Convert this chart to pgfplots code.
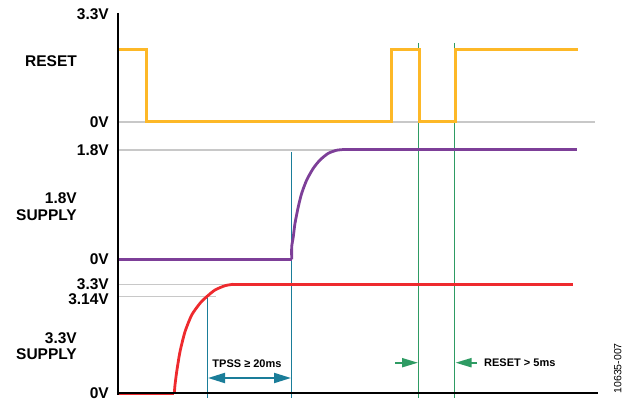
\documentclass[border=0pt]{standalone}
\usepackage{pgfplots}
\pgfplotsset{compat=1.18}
\usepackage{fontspec}
\setmainfont{Liberation Sans}
\usetikzlibrary{arrows.meta}
\definecolor{rstorange}{HTML}{FDB827}
\definecolor{supppurple}{HTML}{7D3F98}
\definecolor{suppred}{HTML}{EE2A2E}
\definecolor{tealline}{HTML}{1A7D99}
\definecolor{greenline}{HTML}{2E9B63}
\definecolor{gridgray}{HTML}{C8C8C8}
\definecolor{axisblack}{HTML}{000000}
\begin{document}
\begin{tikzpicture}
\begin{axis}[
  width=629pt, height=402pt, scale only axis,
  xmin=0, xmax=629, ymin=-402, ymax=0,
  hide axis, clip=false,
]
% gray reference lines
\addplot[gridgray, line width=1.4pt] coordinates {(118,-122) (595,-122)};
\addplot[gridgray, line width=1.4pt] coordinates {(118,-150) (342,-150)};
\addplot[gridgray, line width=1.4pt] coordinates {(118,-284.3) (233,-284.3)};
\addplot[gridgray, line width=1.4pt] coordinates {(118,-296.7) (216,-296.7)};
% teal and green verticals
\addplot[tealline, line width=1.1pt] coordinates {(291.7,-152) (291.7,-398)};
\addplot[tealline, line width=1.1pt] coordinates {(207.3,-296.7) (207.3,-398)};
\addplot[greenline, line width=1.2pt] coordinates {(418.7,-43) (418.7,-398)};
\addplot[greenline, line width=1.2pt] coordinates {(454.7,-43) (454.7,-398)};
% RESET
\addplot[rstorange, line width=3pt] coordinates {
 (118,-50) (146.7,-50) (146.7,-122) (391,-122) (391,-50) (419,-50) (419,-122) (455,-122) (455,-50) (578,-50)};
% 1.8V supply
\addplot[supppurple, line width=2.8pt] coordinates {
 (118,-259.3) (291.7,-259.3)};
\addplot[supppurple, line width=2.8pt, smooth, tension=0.4] coordinates {
 (291.7,-259.3) (291.7,-246.7) (293.3,-236.7) (295,-223.3) (298.3,-206.7) (301.7,-193.3)
 (306.7,-180) (313.3,-168.3) (320,-160) (328.3,-153.3) (336.7,-150.2) (342,-149.7)};
\addplot[supppurple, line width=2.8pt] coordinates {(341.7,-149.7) (577,-149.7)};
% 3.3V supply
\addplot[suppred, line width=2.8pt] coordinates {(118,-393.3) (174.3,-393.3)};
\addplot[suppred, line width=2.8pt, smooth, tension=0.4] coordinates {
 (174.3,-393.3) (175,-385) (176.7,-371.7) (180,-351.7) (185,-331.7) (191.7,-315)
 (200,-303.3) (206.7,-296.7) (215,-290) (225,-285.7) (233.3,-284.3)};
\addplot[suppred, line width=2.8pt] coordinates {(233,-284.3) (572.7,-284.3)};
% axes
\addplot[draw=axisblack, line width=2.3pt] coordinates {(118,-13) (118,-394.5)};
\addplot[draw=axisblack, line width=2.3pt] coordinates {(116.9,-393.3) (598,-393.3)};
% arrows
\addplot[tealline, line width=2pt, {Triangle[length=17pt,width=10pt]}-{Triangle[length=17pt,width=10pt]}] coordinates {(208,-378) (291,-378)};
\addplot[greenline, line width=2pt, -{Triangle[length=16pt,width=9pt]}] coordinates {(395,-362.7) (418,-362.7)};
\addplot[greenline, line width=2pt, -{Triangle[length=16pt,width=9pt]}] coordinates {(477,-362.7) (455.5,-362.7)};
% labels
\tikzset{lbl/.style={font=\fontsize{15.5}{16}\selectfont\bfseries, inner sep=0pt}}
\node[lbl, anchor=east] at (axis cs:109,-14) {3.3V};
\node[lbl] at (axis cs:51,-61) {RESET};
\node[lbl, anchor=east] at (axis cs:109,-122) {0V};
\node[lbl, anchor=east] at (axis cs:109,-150) {1.8V};
\node[lbl, anchor=east] at (axis cs:77,-198.5) {1.8V};
\node[lbl, anchor=east] at (axis cs:77,-215) {SUPPLY};
\node[lbl, anchor=east] at (axis cs:109,-259.5) {0V};
\node[lbl, anchor=east] at (axis cs:109,-284.5) {3.3V};
\node[lbl, anchor=east] at (axis cs:109,-299) {3.14V};
\node[lbl, anchor=east] at (axis cs:77,-338) {3.3V};
\node[lbl, anchor=east] at (axis cs:77,-354.5) {SUPPLY};
\node[lbl, anchor=east] at (axis cs:109,-393.5) {0V};
\node[font=\fontsize{11}{12}\selectfont\bfseries, inner sep=0pt] at (axis cs:247,-364) {TPSS ≥ 20ms};
\node[font=\fontsize{11}{12}\selectfont\bfseries, inner sep=0pt, anchor=west] at (axis cs:484,-363) {RESET > 5ms};
\node[font=\fontsize{10.5}{11}\selectfont, inner sep=0pt, rotate=90] at (axis cs:617.7,-368.3) {10635-007};
\end{axis}
\pgfresetboundingbox
\path[use as bounding box] (current axis.south west) rectangle (current axis.north east);
\end{tikzpicture}
\end{document}
